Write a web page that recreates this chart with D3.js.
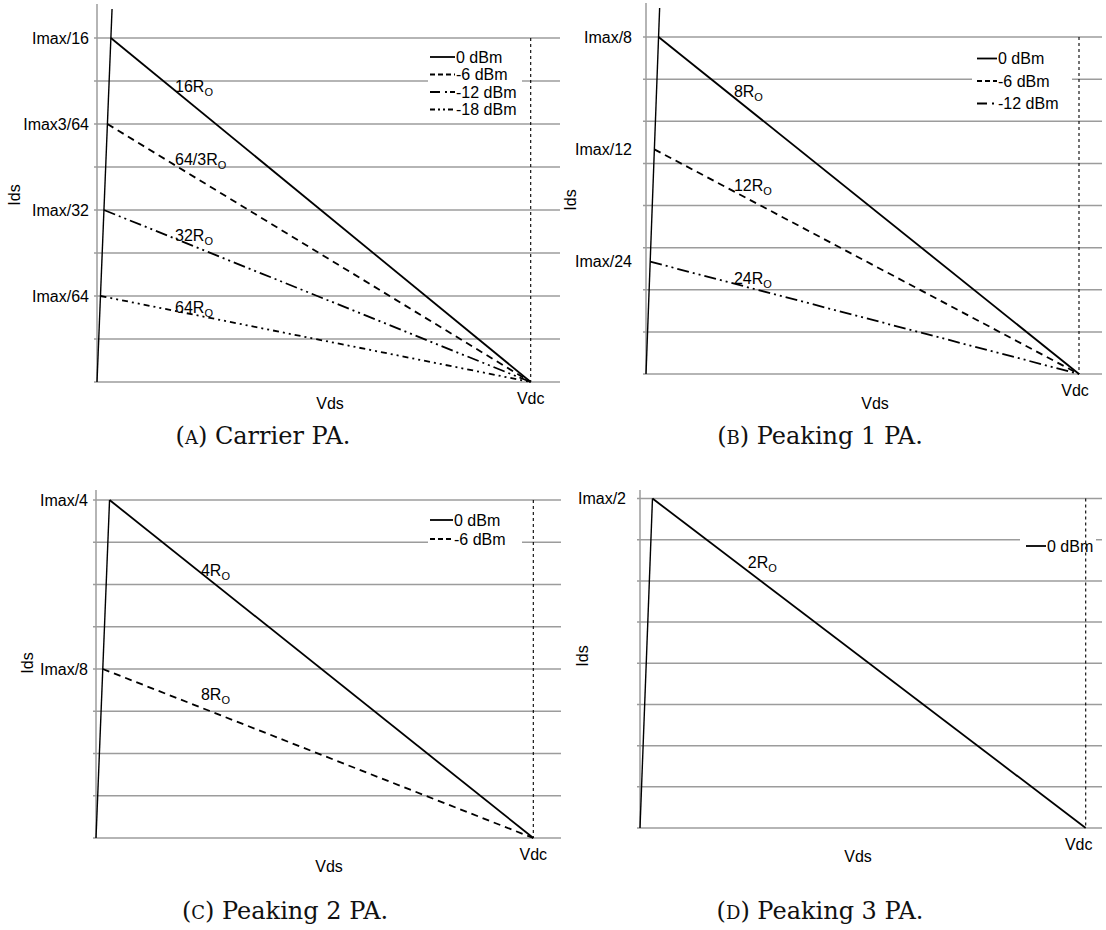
<!DOCTYPE html>
<html><head><meta charset="utf-8">
<script src="https://cdn.jsdelivr.net/npm/d3@7"></script>
<style>body{margin:0;background:#fff;} svg{display:block}</style>
</head><body><svg id="c" width="1106" height="930"></svg>
<script>
// ---------------- data ----------------
const carrierLevels = ["0 dBm", "-6 dBm", "-12 dBm", "-18 dBm"];
const carrierCurrents = [4, 3, 2, 1];            // in units of Imax/64
const carrierTickLabels = ["Imax/16", "Imax3/64", "Imax/32", "Imax/64"];
const carrierLoads = ["16", "64/3", "32", "64"];

const peaking1Levels = ["0 dBm", "-6 dBm", "-12 dBm"];
const peaking1Currents = [3, 2, 1];              // in units of Imax/24
const peaking1TickLabels = ["Imax/8", "Imax/12", "Imax/24"];
const peaking1Loads = ["8", "12", "24"];

const peaking2Levels = ["0 dBm", "-6 dBm"];
const peaking2Currents = [2, 1];                 // in units of Imax/8
const peaking2TickLabels = ["Imax/4", "Imax/8"];
const peaking2Loads = ["4", "8"];

const peaking3Levels = ["0 dBm"];
const peaking3Currents = [1];                    // in units of Imax/2
const peaking3TickLabels = ["Imax/2"];
const peaking3Loads = ["2"];

const captionLetters = ["A", "B", "C", "D"];
const captionTexts = ["Carrier PA.", "Peaking 1 PA.", "Peaking 2 PA.", "Peaking 3 PA."];

// ---------------- styles ----------------
const dashStyles = [null, "7,5", "12,4,2,4,2,4", "6,4,2,4,2,4"];
const legendDash = [null, "5,3", "10,5,2,3", "5,3,2,3,2,3"];
const SANS = "'Liberation Sans', Arial, sans-serif";
const SERIF = "'DejaVu Serif', serif";

// ---------------- layout ----------------
const panels = [
  {levels: carrierLevels, cur: carrierCurrents, ticks: carrierTickLabels, loads: carrierLoads,
   x0: 97, x1: 560, vdc: 530.7, y0: 382, y1: 38, axisTop: 4, kneeTop: 9, knee: 0.032, labGap: 8,
   loadX: 0.18, loadDy: [1, 0, 2, 2],
   leg: {x: 430, w: 25, y: 57, dy: 17.5, bx: 428, bw: 94, by: 46, bh: 72},
   ids: [14, 195], vds: [330, 409], vdcDx: 0, vdcY: 404, cap: [263, 444]},
  {levels: peaking1Levels, cur: peaking1Currents, ticks: peaking1TickLabels, loads: peaking1Loads,
   x0: 646, x1: 1102, vdc: 1079, y0: 374, y1: 37, axisTop: 3, kneeTop: 8, knee: 0.029, labGap: 14,
   loadX: 0.203, loadDy: [0, 0, 0],
   leg: {x: 977, w: 20, y: 58.5, dy: 22.5, bx: 972, bw: 100, by: 46, bh: 70},
   ids: [570, 200], vds: [875, 409], vdcDx: -4, vdcY: 396, cap: [820, 444]},
  {levels: peaking2Levels, cur: peaking2Currents, ticks: peaking2TickLabels, loads: peaking2Loads,
   x0: 96, x1: 561, vdc: 533.3, y0: 838, y1: 500, axisTop: 490, kneeTop: 500, knee: 0.031, labGap: 8,
   loadX: 0.24, loadDy: [3, -8],
   leg: {x: 430, w: 23, y: 520, dy: 19, bx: 428, bw: 94, by: 509, bh: 40},
   ids: [27.5, 663], vds: [329, 872], vdcDx: 0, vdcY: 860, cap: [285, 919]},
  {levels: peaking3Levels, cur: peaking3Currents, ticks: peaking3TickLabels, loads: peaking3Loads,
   x0: 640, x1: 1102, vdc: 1085.7, y0: 828, y1: 498.5, axisTop: 490, kneeTop: 498.5, knee: 0.028, labGap: 14,
   loadX: 0.242, loadDy: [-3],
   leg: {x: 1026, w: 20, y: 546, dy: 19, bx: 1020, bw: 76, by: 535, bh: 22},
   ids: [582.7, 656], vds: [858, 862], vdcDx: -7, vdcY: 850, cap: [820, 919]}
];

const svg = d3.select("#c");

panels.forEach((p, pi) => {
  const g = svg.append("g");
  const yMax = d3.max(p.cur);
  const x = d3.scaleLinear().domain([0, 1]).range([p.x0, p.vdc]);
  const y = d3.scaleLinear().domain([0, yMax]).range([p.y0, p.y1]);
  const gridVals = d3.range(0, 9).map(i => yMax * i / 8);

  // gridlines
  g.selectAll("line.grid").data(gridVals).join("line")
    .attr("x1", p.x0 - 3).attr("x2", p.x1)
    .attr("y1", d => y(d)).attr("y2", d => y(d))
    .attr("stroke", "#9c9c9c").attr("stroke-width", 1.5);

  // vertical axis
  g.append("line").attr("x1", p.x0).attr("x2", p.x0)
    .attr("y1", p.axisTop).attr("y2", p.y0)
    .attr("stroke", "#9c9c9c").attr("stroke-width", 1.5);

  // legend box (white, hides gridline)
  g.append("rect").attr("x", p.leg.bx).attr("y", p.leg.by)
    .attr("width", p.leg.bw).attr("height", p.leg.bh).attr("fill", "#fff");

  // Vdc dashed line
  g.append("line").attr("x1", x(1)).attr("x2", x(1))
    .attr("y1", y(yMax)).attr("y2", y(0))
    .attr("stroke", "#000").attr("stroke-width", 1.1).attr("stroke-dasharray", "3,3");

  // knee line
  const kTop = y.invert(p.kneeTop);
  g.append("line").attr("x1", x(0)).attr("y1", y(0))
    .attr("x2", x(p.knee * kTop / yMax)).attr("y2", y(kTop))
    .attr("stroke", "#000").attr("stroke-width", 1.4);

  // load lines
  const lineGen = d3.line().x(d => x(d[0])).y(d => y(d[1]));
  p.cur.forEach((c, i) => {
    const pts = [[p.knee * c / yMax, c], [1, 0]];
    g.append("path").attr("d", lineGen(pts)).attr("fill", "none")
      .attr("stroke", "#000").attr("stroke-width", 1.8)
      .attr("stroke-dasharray", dashStyles[i]);
    // load label
    const kx = p.knee * c / yMax;
    const ly = c * (1 - p.loadX) / (1 - kx);
    const t = g.append("text").attr("x", x(p.loadX)).attr("y", y(ly) + p.loadDy[i])
      .attr("font-family", SANS).attr("font-size", 16).attr("fill", "#000");
    t.append("tspan").text(p.loads[i] + "R");
    t.append("tspan").attr("font-size", 11).attr("dy", 4).text("O");
    // tick label
    g.append("text").attr("x", p.x0 - p.labGap).attr("y", y(c)).attr("dy", "0.35em")
      .attr("text-anchor", "end").attr("font-family", SANS).attr("font-size", 16)
      .text(p.ticks[i]);
  });

  // legend
  p.levels.forEach((lv, i) => {
    const ly = p.leg.y + i * p.leg.dy;
    g.append("line").attr("x1", p.leg.x).attr("x2", p.leg.x + p.leg.w)
      .attr("y1", ly).attr("y2", ly).attr("stroke", "#000").attr("stroke-width", 1.8)
      .attr("stroke-dasharray", legendDash[i]);
    g.append("text").attr("x", p.leg.x + p.leg.w + 1).attr("y", ly).attr("dy", "0.35em")
      .attr("font-family", SANS).attr("font-size", 16).text(lv);
  });

  // axis titles
  g.append("text").attr("transform", `translate(${p.ids[0]},${p.ids[1]}) rotate(-90)`)
    .attr("text-anchor", "middle").attr("dy", "0.35em")
    .attr("font-family", SANS).attr("font-size", 16).text("Ids");
  g.append("text").attr("x", p.vds[0]).attr("y", p.vds[1]).attr("text-anchor", "middle")
    .attr("font-family", SANS).attr("font-size", 16).text("Vds");
  g.append("text").attr("x", x(1) + p.vdcDx).attr("y", p.vdcY).attr("text-anchor", "middle")
    .attr("font-family", SANS).attr("font-size", 16).text("Vdc");

  // caption
  const cap = g.append("text").attr("x", p.cap[0]).attr("y", p.cap[1]).attr("text-anchor", "middle")
    .attr("font-family", SERIF).attr("font-size", 24).attr("fill", "#111");
  cap.append("tspan").text("(");
  cap.append("tspan").attr("font-size", 18).text(captionLetters[pi]);
  cap.append("tspan").text(") " + captionTexts[pi]);
});
</script>
</body></html>
